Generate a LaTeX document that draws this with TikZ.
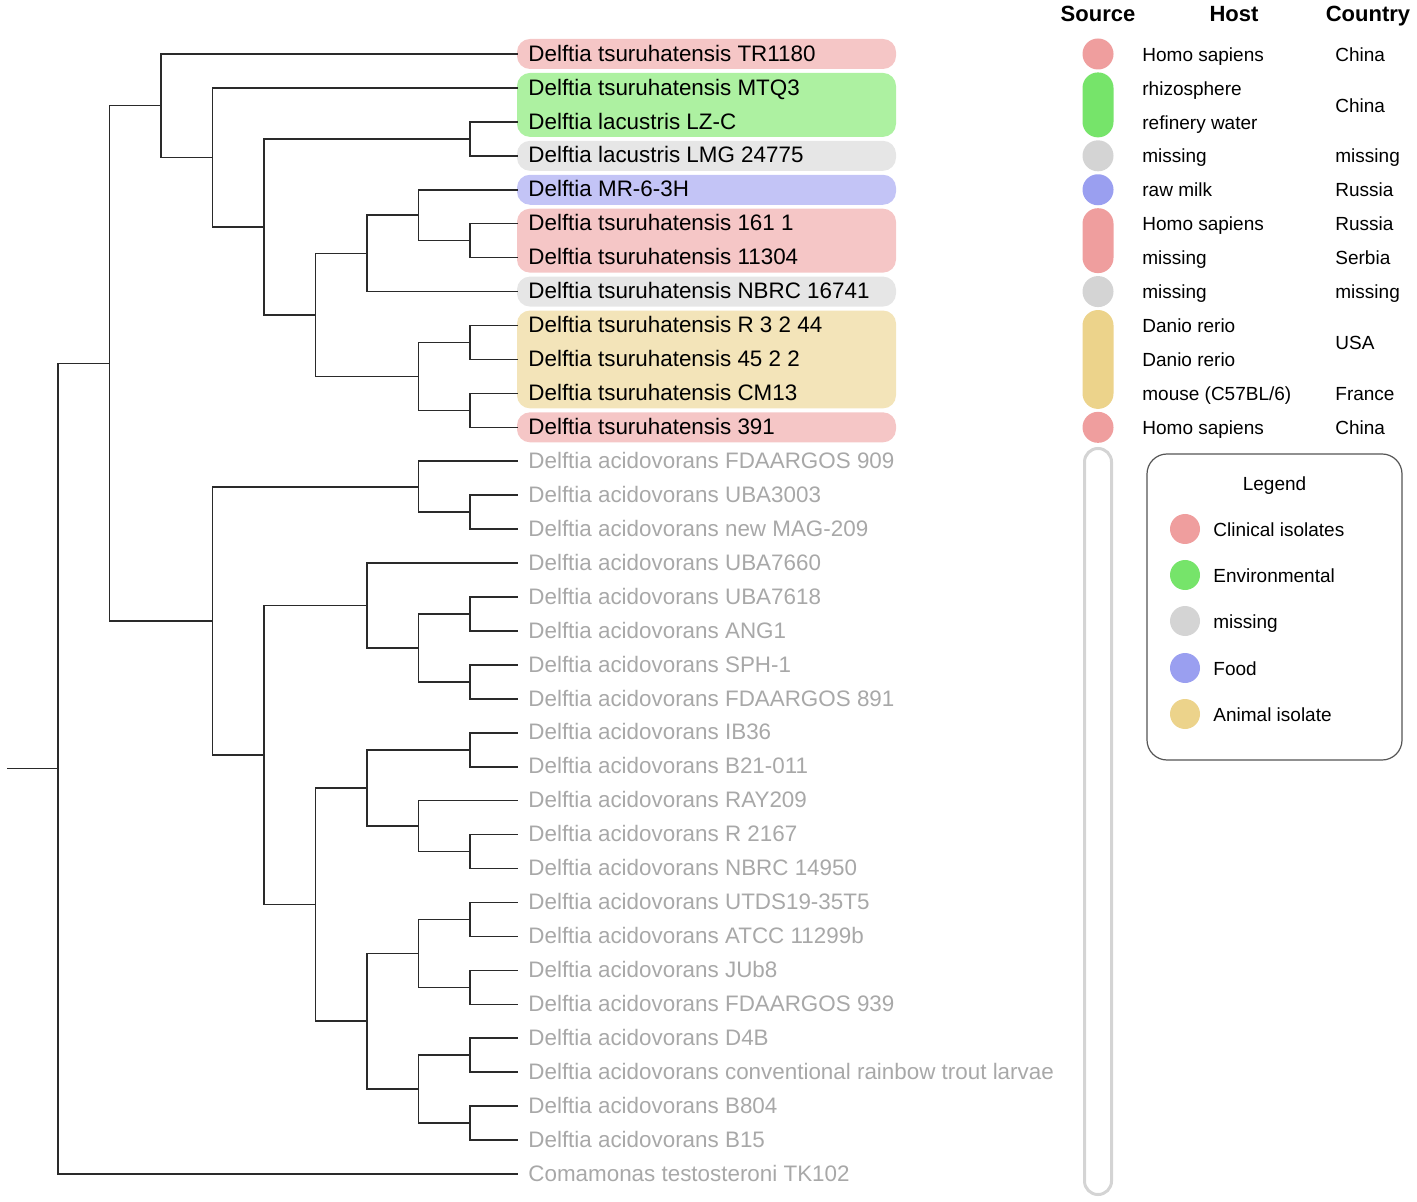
\documentclass[tikz,border=0pt]{standalone}
\usepackage{fontspec}
\setmainfont{Liberation Sans}

% source colours (pills) and label boxes
\definecolor{clin}{HTML}{EF9E9E}
\definecolor{env}{HTML}{76E46A}
\definecolor{miss}{HTML}{D4D4D4}
\definecolor{food}{HTML}{9A9FF0}
\definecolor{anim}{HTML}{ECD38B}
\definecolor{boxclin}{HTML}{F5C6C6}
\definecolor{boxenv}{HTML}{ADF1A1}
\definecolor{boxmiss}{HTML}{E6E6E6}
\definecolor{boxfood}{HTML}{C3C4F6}
\definecolor{boxanim}{HTML}{F3E4B9}
\definecolor{outgroup}{HTML}{A8A8A8}
\definecolor{treeline}{HTML}{2A2A2A}
\definecolor{frame}{HTML}{555555}

% y of a row (rows may be fractional for inner nodes)
\newcommand{\ry}[1]{54+33.94*(#1-1)}

\begin{document}
\begin{tikzpicture}[x=0.5pt, y=-0.5pt,
  branch/.style={draw=treeline, line width=0.8pt},
  leaf/.style={anchor=west, inner sep=0pt, text height=0.716em, text depth=0pt,
    font=\fontsize{11.2}{13}\selectfont},
  info/.style={anchor=west, inner sep=0pt, text height=0.716em, text depth=0pt,
    font=\fontsize{9.5}{11}\selectfont},
  head/.style={inner sep=0pt, text height=0.716em, text depth=0pt,
    font=\fontsize{11}{13}\selectfont\bfseries}]
  \useasboundingbox (0,0) rectangle (1417,1202);

  % Label boxes and source pills
  \foreach \a/\b/\c in {1/1/clin, 2/3/env, 4/4/miss, 5/5/food,
                        6/7/clin, 8/8/miss, 9/11/anim, 12/12/clin} {
    \fill[box\c, rounded corners=6.5pt] (517,{\ry{\a}-15}) rectangle (896,{\ry{\b}+15});
    \fill[\c, rounded corners=7.7pt] (1082.5,{\ry{\a}-15.5}) rectangle (1113.5,{\ry{\b}+15.5});
  }
  % empty pill for the rest
  \draw[miss, line width=1.5pt, rounded corners=6.7pt] (1084.5,448.5) rectangle (1111.5,1194.5);

  % Leaves
  \foreach \name [count=\i] in {Delftia tsuruhatensis TR1180, Delftia tsuruhatensis MTQ3,
      Delftia lacustris LZ-C, Delftia lacustris LMG 24775, Delftia MR-6-3H,
      Delftia tsuruhatensis 161 1, Delftia tsuruhatensis 11304,
      Delftia tsuruhatensis NBRC 16741, Delftia tsuruhatensis R 3 2 44,
      Delftia tsuruhatensis 45 2 2, Delftia tsuruhatensis CM13,
      Delftia tsuruhatensis 391} {
    \coordinate (l\i) at (518,{\ry{\i}});
    \node[leaf] (t\i) at (528,{\ry{\i}}) {\name};
  }
  \foreach \name [count=\i from 13] in {Delftia acidovorans FDAARGOS 909,
      Delftia acidovorans UBA3003, Delftia acidovorans new MAG-209,
      Delftia acidovorans UBA7660, Delftia acidovorans UBA7618,
      Delftia acidovorans ANG1, Delftia acidovorans SPH-1,
      Delftia acidovorans FDAARGOS 891, Delftia acidovorans IB36,
      Delftia acidovorans B21-011, Delftia acidovorans RAY209,
      Delftia acidovorans R 2167, Delftia acidovorans NBRC 14950,
      Delftia acidovorans UTDS19-35T5, Delftia acidovorans ATCC 11299b,
      Delftia acidovorans JUb8, Delftia acidovorans FDAARGOS 939,
      Delftia acidovorans D4B, Delftia acidovorans conventional rainbow trout larvae,
      Delftia acidovorans B804, Delftia acidovorans B15,
      Comamonas testosteroni TK102} {
    \coordinate (l\i) at (518,{\ry{\i}});
    \node[leaf, text=outgroup] (t\i) at (528,{\ry{\i}}) {\name};
  }

  % Inner nodes, tsuruhatensis clade
  \coordinate (a34) at (470,{\ry{3.5}});
  \coordinate (a67) at (470,{\ry{6.5}});
  \coordinate (a567) at (418.5,{\ry{5.75}});
  \coordinate (a58) at (367,{\ry{6.875}});
  \coordinate (a910) at (470,{\ry{9.5}});
  \coordinate (a1112) at (470,{\ry{11.5}});
  \coordinate (a912) at (418.5,{\ry{10.5}});
  \coordinate (a512) at (315.5,{\ry{8.6875}});
  \coordinate (a312) at (264,{\ry{6.09375}});
  \coordinate (a212) at (212.5,{\ry{4.046875}});
  \coordinate (a112) at (161,{\ry{2.5234375}});
  % Inner nodes, acidovorans clade
  \coordinate (b1415) at (470,{\ry{14.5}});
  \coordinate (b1315) at (418.5,{\ry{13.75}});
  \coordinate (b1718) at (470,{\ry{17.5}});
  \coordinate (b1920) at (470,{\ry{19.5}});
  \coordinate (b1720) at (418.5,{\ry{18.5}});
  \coordinate (b1620) at (367,{\ry{17.25}});
  \coordinate (b2122) at (470,{\ry{21.5}});
  \coordinate (b2425) at (470,{\ry{24.5}});
  \coordinate (b2325) at (418.5,{\ry{23.75}});
  \coordinate (b2125) at (367,{\ry{22.625}});
  \coordinate (b2627) at (470,{\ry{26.5}});
  \coordinate (b2829) at (470,{\ry{28.5}});
  \coordinate (b2629) at (418.5,{\ry{27.5}});
  \coordinate (b3031) at (470,{\ry{30.5}});
  \coordinate (b3233) at (470,{\ry{32.5}});
  \coordinate (b3033) at (418.5,{\ry{31.5}});
  \coordinate (b2633) at (367,{\ry{29.5}});
  \coordinate (b2133) at (315.5,{\ry{26.0625}});
  \coordinate (b1633) at (264,{\ry{21.65625}});
  \coordinate (b1333) at (212.5,{\ry{17.703125}});
  % Delftia and root
  \coordinate (c133) at (109.5,{\ry{10.11328125}});
  \coordinate (root) at (58,{\ry{22.056640625}});
  \coordinate (stub) at (7,{\ry{22.056640625}});

  % Branches
  \foreach \p/\c in {a34/l3, a34/l4, a67/l6, a67/l7, a567/l5, a567/a67,
      a58/a567, a58/l8, a910/l9, a910/l10, a1112/l11, a1112/l12,
      a912/a910, a912/a1112, a512/a58, a512/a912, a312/a34, a312/a512,
      a212/l2, a212/a312, a112/l1, a112/a212,
      b1415/l14, b1415/l15, b1315/l13, b1315/b1415,
      b1718/l17, b1718/l18, b1920/l19, b1920/l20, b1720/b1718, b1720/b1920,
      b1620/l16, b1620/b1720, b2122/l21, b2122/l22, b2425/l24, b2425/l25,
      b2325/l23, b2325/b2425, b2125/b2122, b2125/b2325,
      b2627/l26, b2627/l27, b2829/l28, b2829/l29, b2629/b2627, b2629/b2829,
      b3031/l30, b3031/l31, b3233/l32, b3233/l33, b3033/b3031, b3033/b3233,
      b2633/b2629, b2633/b3033, b2133/b2125, b2133/b2633,
      b1633/b1620, b1633/b2133, b1333/b1315, b1333/b1633,
      c133/a112, c133/b1333, root/c133, root/l34}
    \draw[branch] (\p) |- (\c);
  \draw[branch] (stub) -- (root);

  % Column heads
  \node[head] (hsrc) at (1098,14) {Source};
  \node[head] (hhost) at (1234,14) {Host};
  \node[head] (hctry) at (1368,14) {Country};

  % Host
  \foreach \t [count=\i] in {Homo sapiens, rhizosphere, refinery water, missing,
      raw milk, Homo sapiens, missing, missing, Danio rerio, Danio rerio,
      mouse (C57BL/6), Homo sapiens}
    \node[info] (h\i) at (1142,{\ry{\i}}) {\t};

  % Country
  \foreach \r/\t [count=\i] in {1/China, 2.5/China, 4/missing, 5/Russia, 6/Russia,
      7/Serbia, 8/missing, 9.5/USA, 11/France, 12/China}
    \node[info] (k\i) at (1335,{\ry{\r}}) {\t};

  % Legend
  \draw[frame, line width=0.6pt, rounded corners=10pt] (1147,454) rectangle (1402,760);
  \node[info, anchor=center] (leg) at (1274.5,483) {Legend};
  \foreach \y/\c/\t in {529/clin/Clinical isolates, 575/env/Environmental,
      621/miss/missing, 668/food/Food, 714/anim/Animal isolate} {
    \fill[\c] (1185,\y) circle[radius=7.5pt];
    \node[info] (leg\c) at (1213,\y) {\t};
  }
\end{tikzpicture}
\end{document}
